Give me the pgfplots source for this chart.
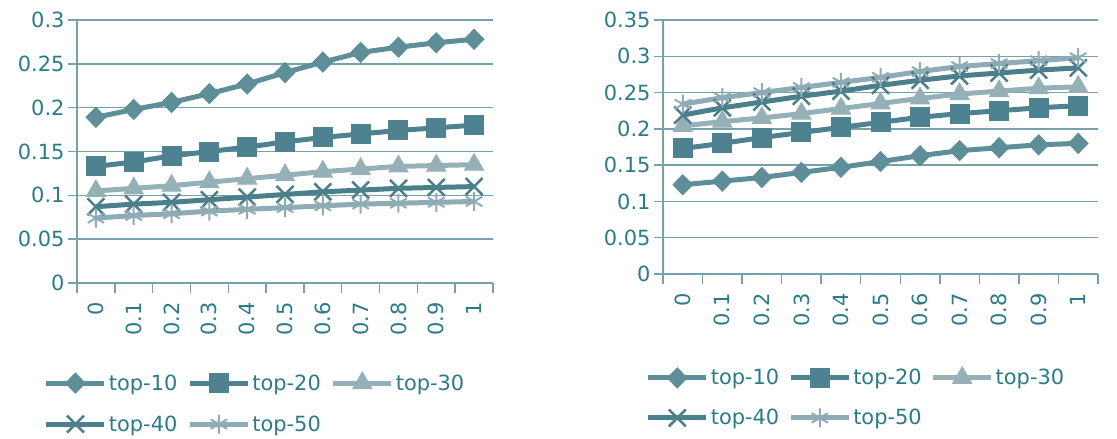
\documentclass[border=0pt]{standalone}
\usepackage{pgfplots}
\usepackage{pgfplotstable}
\pgfplotsset{compat=1.18}
\usepackage{fontspec}
\setmainfont{DejaVu Sans}

\definecolor{txt}{HTML}{2B7A87}
\definecolor{gridc}{HTML}{76A0AA}
\definecolor{cA}{HTML}{5E8F99}
\definecolor{cB}{HTML}{4E8290}
\definecolor{cC}{HTML}{96B0B8}
\definecolor{cD}{HTML}{4A7F8B}
\definecolor{cE}{HTML}{8FABB5}

% columns: x position, top-10 ... top-50
\pgfplotstableread{
x  t10   t20   t30   t40   t50
0  0.189 0.133 0.105 0.087 0.074
1  0.198 0.138 0.108 0.090 0.077
2  0.206 0.145 0.111 0.092 0.079
3  0.216 0.150 0.115 0.095 0.082
4  0.227 0.155 0.119 0.098 0.084
5  0.240 0.161 0.123 0.101 0.086
6  0.252 0.166 0.127 0.104 0.088
7  0.263 0.170 0.130 0.106 0.090
8  0.269 0.174 0.133 0.108 0.091
9  0.274 0.177 0.134 0.109 0.092
10 0.278 0.180 0.135 0.110 0.093
}\leftdata

\pgfplotstableread{
x  t10   t20   t30   t40   t50
0  0.123 0.173 0.204 0.219 0.234
1  0.128 0.180 0.210 0.229 0.243
2  0.133 0.188 0.215 0.237 0.250
3  0.140 0.195 0.221 0.245 0.257
4  0.147 0.202 0.228 0.252 0.264
5  0.155 0.209 0.235 0.260 0.271
6  0.163 0.216 0.242 0.267 0.279
7  0.170 0.221 0.248 0.273 0.286
8  0.174 0.225 0.252 0.277 0.290
9  0.178 0.229 0.256 0.281 0.294
10 0.180 0.232 0.258 0.284 0.298
}\rightdata

\pgfplotsset{
  excel/.style={
    scale only axis,
    axis x line*=bottom, axis y line*=left,
    axis line style={gridc, line width=1.5bp, -},
    xmin=-0.5, xmax=10.5, ymin=0,
    xtick={0,...,10},
    xticklabels={0,0.1,0.2,0.3,0.4,0.5,0.6,0.7,0.8,0.9,1},
    minor xtick={-0.5,0.5,...,10.5},
    major x tick style={draw=none},
    minor tick length=10bp,
    minor x tick style={gridc, line width=1.5bp},
    major tick length=9bp,
    tick align=outside,
    y tick style={gridc, line width=1.5bp},
    ymajorgrids,
    major grid style={gridc, line width=1.5bp},
    ticklabel style={font=\fontsize{21}{25}\selectfont, text=txt},
    /pgf/number format/assume math mode=true,
    yticklabel style={/pgf/number format/fixed, /pgf/number format/precision=2},
    xticklabel style={yshift=-10bp, rotate=90, anchor=east, inner sep=0bp},
    legend columns=3,
    legend cell align=left,
    legend style={draw=none, fill=none, font=\fontsize{21}{25}\selectfont, text=txt,
      anchor=north west, inner sep=0bp, row sep=20bp,
      nodes={inner sep=2bp},
      /tikz/every even column/.append style={column sep=8bp}},
    legend image code/.code={%
      \draw[mark repeat=2,mark phase=2,#1] plot coordinates {(0bp,0bp) (29bp,0bp) (58bp,0bp)};},
    every axis plot/.append style={line width=5bp},
  },
  s10/.style={cA, mark=diamond*, mark size=10bp, mark options={solid, line width=1bp, xscale=1.3}},
  s20/.style={cB, mark=square*, mark size=9.5bp, mark options={solid, line width=1bp}},
  s30/.style={cC, mark=triangle*, mark size=11bp, mark options={solid, line width=1bp}},
  s40/.style={cD, mark=x, mark size=12bp, mark options={solid, line width=2.5bp}},
  s50/.style={cE, mark=asterisk, mark size=9.5bp, mark options={solid, line width=2bp}},
}

\begin{document}
\begin{tikzpicture}
\useasboundingbox (0,0) rectangle (1117bp,-439bp);

\begin{axis}[excel,
  at={(77bp,-283bp)}, anchor=south west,
  width=416bp, height=263bp,
  ymax=0.3, ytick={0,0.05,...,0.3},
  legend style={at={(-0.08,-0.338)}},
]
\addplot[s10] table[x=x, y=t10] {\leftdata};
\addplot[s20] table[x=x, y=t20] {\leftdata};
\addplot[s30] table[x=x, y=t30] {\leftdata};
\addplot[s40] table[x=x, y=t40] {\leftdata};
\addplot[s50] table[x=x, y=t50] {\leftdata};
\legend{top-10,top-20,top-30,top-40,top-50}
\end{axis}

\begin{axis}[excel,
  at={(663bp,-274bp)}, anchor=south west,
  width=435bp, height=254bp,
  ymax=0.35, ytick={0,0.05,...,0.35},
  legend style={at={(-0.04,-0.365)}, row sep=19bp,
    /tikz/every even column/.append style={column sep=7bp}},
]
\addplot[s10] table[x=x, y=t10] {\rightdata};
\addplot[s20] table[x=x, y=t20] {\rightdata};
\addplot[s30] table[x=x, y=t30] {\rightdata};
\addplot[s40] table[x=x, y=t40] {\rightdata};
\addplot[s50] table[x=x, y=t50] {\rightdata};
\legend{top-10,top-20,top-30,top-40,top-50}
\end{axis}
\end{tikzpicture}
\end{document}
